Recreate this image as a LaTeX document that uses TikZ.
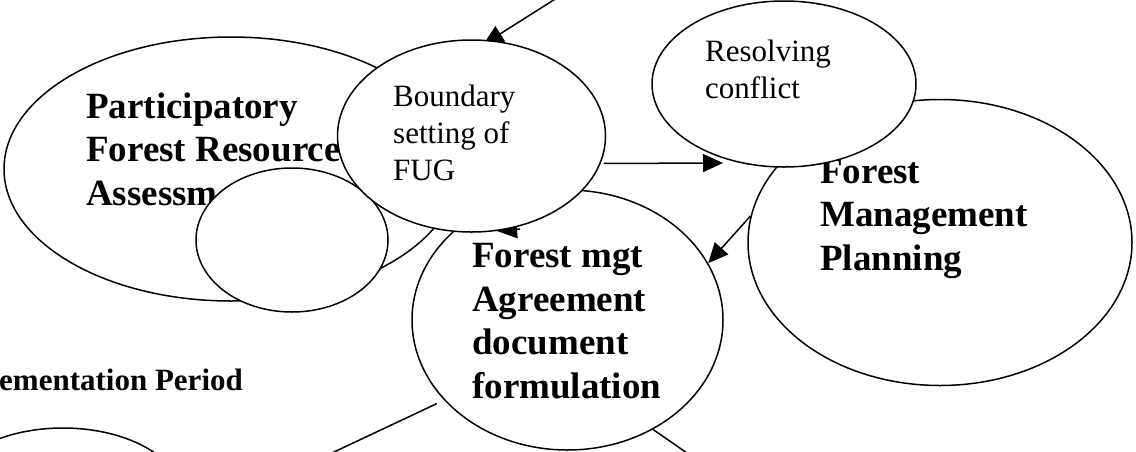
\documentclass[tikz,border=0pt]{standalone}
\usepackage{fontspec}
\setmainfont{Liberation Serif}
\usetikzlibrary{shapes.geometric, arrows.meta, positioning, calc}
\pgfdeclarelayer{back}
\pgfsetlayers{back,main}

\begin{document}
\begin{tikzpicture}[x=1pt, y=-1pt,
  blob/.style={ellipse, draw, fill=white, line width=1.5pt, inner sep=0pt},
  boldtxt/.style={font=\fontsize{37}{43.5}\selectfont\bfseries, align=left, anchor=base west, inner sep=0pt},
  plaintxt/.style={font=\fontsize{31}{37}\selectfont, align=left, anchor=base west, inner sep=0pt},
  link/.style={line width=1.5pt, -{Triangle[length=20pt, width=18pt]}},
  plainline/.style={line width=1.5pt}]
\useasboundingbox (0,0) rectangle (1136,451);
\clip (0,0) rectangle (1136,451);

% Ellipses, back to front (text anchored on its last line)
\node[blob, minimum width=454pt, minimum height=264pt] (pfra) at (231,169) {};
\node[boldtxt] (pfratxt) at (86,205) {Participatory\\Forest Resource\\Assessm};
\node[blob, minimum width=192pt, minimum height=144pt] (gap) at (292,240) {};
\node[blob, minimum width=311pt, minimum height=260pt] (agree) at (567.5,320) {};
\node[boldtxt] (agreetxt) at (472,398) {Forest mgt\\Agreement\\document\\formulation};

% arrow tip hidden under the FUG ellipse
\coordinate (backtail) at (520,229);
\coordinate (backtip) at (497,231);
\draw[link] (backtail) -- (backtip);

\node[blob, minimum width=268pt, minimum height=192pt] (fug) at (471.5,136) {};
\node[plaintxt] (fugtxt) at (393,180) {Boundary\\setting of\\FUG};
\node[blob, minimum width=384pt, minimum height=286pt] (fmp) at (940,242.5) {};
\node[boldtxt] (fmptxt) at (820,270) {Forest\\Management\\Planning};
\node[blob, minimum width=264pt, minimum height=166pt] (conf) at (784,84) {};
\node[plaintxt] (conftxt) at (705,98) {Resolving\\conflict};
\node[blob, minimum width=240pt, minimum height=140pt] (impl) at (63,498) {};
\node[boldtxt, font=\fontsize{31}{37}\selectfont\bfseries] (impltxt) at (-1,390) {ementation Period};

% Connectors
\coordinate (toptail) at (560,-4);
\begin{pgfonlayer}{back}
\draw[link, shorten >=-8pt] (toptail) -- (fug.79);
\end{pgfonlayer}
\coordinate (confin) at (723,163);
\draw[link, shorten <=3pt] (fug.-12) -- (confin);
\draw[link] (fmp.172) -- (agree.22);
\coordinate (lowleft) at (300,468);
\coordinate (lowright) at (700,462);
\draw[plainline, shorten <=8pt] (agree.213) -- (lowleft);
\draw[plainline] (agree.-52) -- (lowright);
\end{tikzpicture}
\end{document}
